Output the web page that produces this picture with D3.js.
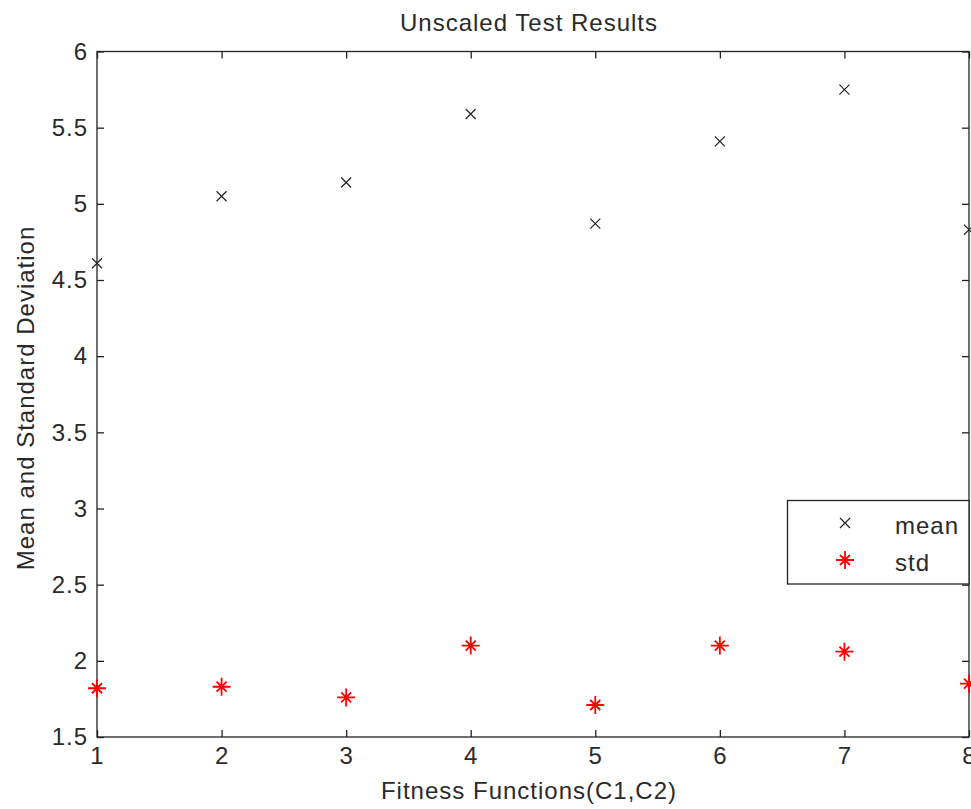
<!DOCTYPE html>
<html>
<head>
<meta charset="utf-8">
<script src="https://cdn.jsdelivr.net/npm/d3@7"></script>
<style>
  body { margin: 0; background: #fff; }
  text { font-family: "Liberation Sans", Arial, sans-serif; fill: #2a2a2a; letter-spacing: 1px; }
</style>
</head>
<body>
<div id="chart"></div>
<script>
// data
var fitness = [1, 2, 3, 4, 5, 6, 7, 8];
var meanVals = [4.61, 5.05, 5.14, 5.59, 4.87, 5.41, 5.75, 4.83];
var stdVals = [1.82, 1.83, 1.76, 2.10, 1.71, 2.10, 2.06, 1.85];
var yTicks = [1.5, 2, 2.5, 3, 3.5, 4, 4.5, 5, 5.5, 6];
var seriesNames = ["mean", "std"];

function init() {
    var w = 971, h = 809;
    var left = 97, right = 969, top = 51.5, bottom = 737;
    var fontSize = "24px";

    var svg = d3.select("#chart").append("svg")
        .attr("width", w)
        .attr("height", h);

    var xScale = d3.scaleLinear().domain([1, 8]).range([left, right]);
    var yScale = d3.scaleLinear().domain([1.5, 6]).range([bottom, top]);

    // box
    svg.append("rect")
        .attr("x", left).attr("y", top)
        .attr("width", right - left).attr("height", bottom - top)
        .attr("fill", "none").attr("stroke", "#222").attr("stroke-width", 1.3);

    // axes with inward ticks
    var xAxis = d3.axisBottom(xScale).tickValues(fitness).tickSize(-7).tickPadding(10).tickFormat(d3.format("d"));
    var xTop = d3.axisTop(xScale).tickValues(fitness).tickSize(-7).tickFormat("");
    var yAxis = d3.axisLeft(yScale).tickValues(yTicks).tickSize(-7).tickPadding(9).tickFormat(function (d) { return d; });
    var yRight = d3.axisRight(yScale).tickValues(yTicks).tickSize(-7).tickFormat("");

    function styleAxis(g) {
        g.select(".domain").remove();
        g.selectAll("line").attr("stroke", "#222").attr("stroke-width", 1.3);
        g.selectAll("text").style("font-size", fontSize).attr("fill", "#2a2a2a");
    }

    svg.append("g").attr("transform", "translate(0," + bottom + ")").call(xAxis).call(styleAxis);
    svg.append("g").attr("transform", "translate(0," + top + ")").call(xTop).call(styleAxis);
    svg.append("g").attr("transform", "translate(" + left + ",0)").call(yAxis).call(styleAxis);
    svg.append("g").attr("transform", "translate(" + right + ",0)").call(yRight).call(styleAxis);

    // mean markers (x)
    var xMark = "M-5,-5L5,5M-5,5L5,-5";
    svg.append("g").selectAll("path")
        .data(meanVals)
        .enter()
        .append("path")
        .attr("transform", function (d, i) { return "translate(" + xScale(fitness[i]) + "," + yScale(d) + ")"; })
        .attr("d", xMark)
        .attr("stroke", "#222").attr("stroke-width", 1.2).attr("fill", "none");

    // std markers (*)
    var starMark = "M-9,0L9,0M0,-9L0,9M-5,-5L5,5M-5,5L5,-5";
    svg.append("g").selectAll("path")
        .data(stdVals)
        .enter()
        .append("path")
        .attr("transform", function (d, i) { return "translate(" + xScale(fitness[i]) + "," + yScale(d) + ")"; })
        .attr("d", starMark)
        .attr("stroke", "#ff0000").attr("stroke-width", 1.8).attr("fill", "none");

    // title and labels
    svg.append("text")
        .attr("x", 529).attr("y", 31)
        .attr("text-anchor", "middle").style("font-size", fontSize)
        .text("Unscaled Test Results");

    svg.append("text")
        .attr("x", 529).attr("y", 799)
        .attr("text-anchor", "middle").style("font-size", fontSize)
        .text("Fitness Functions(C1,C2)");

    svg.append("text")
        .attr("transform", "translate(34,398) rotate(-90)")
        .attr("text-anchor", "middle").style("font-size", fontSize)
        .text("Mean and Standard Deviation");

    // legend
    var legend = svg.append("g");
    legend.append("rect")
        .attr("x", 787.5).attr("y", 500.5)
        .attr("width", right - 787.5).attr("height", 83.5)
        .attr("fill", "#fff").attr("stroke", "#222").attr("stroke-width", 1.3);

    var legendRows = legend.selectAll("g.row")
        .data(seriesNames)
        .enter()
        .append("g")
        .attr("class", "row")
        .attr("transform", function (d, i) { return "translate(845," + (523 + i * 37) + ")"; });

    legendRows.append("path")
        .attr("d", function (d, i) { return i === 0 ? xMark : starMark; })
        .attr("stroke", function (d, i) { return i === 0 ? "#222" : "#ff0000"; })
        .attr("stroke-width", function (d, i) { return i === 0 ? 1.2 : 1.8; })
        .attr("fill", "none");

    legendRows.append("text")
        .attr("x", 50).attr("y", 11)
        .style("font-size", fontSize)
        .text(function (d) { return d; });
}

window.onload = init;
</script>
</body>
</html>
